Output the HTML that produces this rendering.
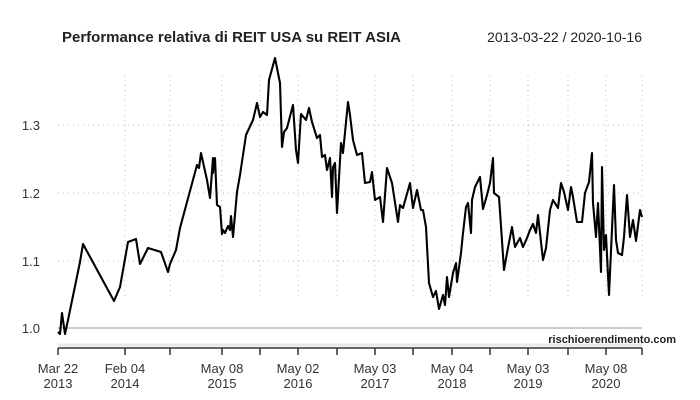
<!DOCTYPE html>
<html><head><style>body{margin:0;background:#fff}svg{display:block}</style></head><body>
<svg width="700" height="400" xmlns="http://www.w3.org/2000/svg" font-family="Liberation Sans, sans-serif">
<rect width="700" height="400" fill="#fff"/>
<text x="62" y="42" font-size="15" font-weight="bold" fill="#222">Performance relativa di REIT USA su REIT ASIA</text>
<text x="642" y="42" font-size="14" fill="#222" text-anchor="end">2013-03-22 / 2020-10-16</text>
<g stroke="#bbb" stroke-dasharray="1,4" stroke-width="1">
<line x1="58" y1="261" x2="642" y2="261"/><line x1="58" y1="193" x2="642" y2="193"/><line x1="58" y1="125" x2="642" y2="125"/>
<line x1="125" y1="75" x2="125" y2="300"/><line x1="170" y1="75" x2="170" y2="300"/><line x1="222" y1="75" x2="222" y2="300"/><line x1="260" y1="75" x2="260" y2="300"/><line x1="298" y1="75" x2="298" y2="300"/><line x1="337" y1="75" x2="337" y2="300"/><line x1="375" y1="75" x2="375" y2="300"/><line x1="413" y1="75" x2="413" y2="300"/><line x1="452" y1="75" x2="452" y2="300"/><line x1="490" y1="75" x2="490" y2="300"/><line x1="528" y1="75" x2="528" y2="300"/><line x1="568" y1="75" x2="568" y2="300"/><line x1="606" y1="75" x2="606" y2="300"/><line x1="642" y1="75" x2="642" y2="300"/>
</g>
<line x1="58" y1="328" x2="642" y2="328" stroke="#999" stroke-width="1"/>
<g font-size="13" fill="#333" text-anchor="end"><text x="40" y="333">1.0</text><text x="40" y="266">1.1</text><text x="40" y="198">1.2</text><text x="40" y="130">1.3</text></g>
<text x="676" y="343" font-size="11" font-weight="bold" fill="#222" text-anchor="end">rischioerendimento.com</text>
<line x1="58" y1="345" x2="642" y2="345" stroke="#e8e8e8" stroke-width="3"/>
<line x1="58" y1="348" x2="642" y2="348" stroke="#333" stroke-width="1.5"/>
<g stroke="#333" stroke-width="1.5"><line x1="58" y1="348" x2="58" y2="355"/><line x1="125" y1="348" x2="125" y2="355"/><line x1="170" y1="348" x2="170" y2="355"/><line x1="222" y1="348" x2="222" y2="355"/><line x1="260" y1="348" x2="260" y2="355"/><line x1="298" y1="348" x2="298" y2="355"/><line x1="337" y1="348" x2="337" y2="355"/><line x1="375" y1="348" x2="375" y2="355"/><line x1="413" y1="348" x2="413" y2="355"/><line x1="452" y1="348" x2="452" y2="355"/><line x1="490" y1="348" x2="490" y2="355"/><line x1="528" y1="348" x2="528" y2="355"/><line x1="568" y1="348" x2="568" y2="355"/><line x1="606" y1="348" x2="606" y2="355"/><line x1="642" y1="348" x2="642" y2="355"/></g>
<g font-size="13" fill="#333" text-anchor="middle">
<text x="58" y="373">Mar 22</text><text x="58" y="388">2013</text>
<text x="125" y="373">Feb 04</text><text x="125" y="388">2014</text>
<text x="222" y="373">May 08</text><text x="222" y="388">2015</text>
<text x="298" y="373">May 02</text><text x="298" y="388">2016</text>
<text x="375" y="373">May 03</text><text x="375" y="388">2017</text>
<text x="452" y="373">May 04</text><text x="452" y="388">2018</text>
<text x="528" y="373">May 03</text><text x="528" y="388">2019</text>
<text x="606" y="373">May 08</text><text x="606" y="388">2020</text>
</g>
<polyline fill="none" stroke="#000" stroke-width="2.1" stroke-linejoin="round" points="58,332 60,334 62,313 65,334 68,320 80,262 83,244 114,301 120,287 128,242 136,239 140,264 148,248 161,252 168,272 170,264 176,250 180,228 197,165 199,168 201,153 207,180 210,198 213,158 213,173 215,158 217,205 220,207 222,234 223,230 225,233 228,226 230,230 231,216 233,237 237,192 240,175 246,135 253,120 257,103 260,117 263,112 267,115 269,80 275,58 280,83 282,147 284,132 287,128 293,105 296,150 298,163 301,114 306,120 309,108 312,122 317,138 320,135 322,157 325,155 327,170 330,158 332,197 333,167 335,163 337,213 341,143 343,153 348,102 350,115 353,140 357,155 362,153 365,183 370,182 372,172 375,200 380,197 383,222 387,168 392,183 398,222 400,205 403,208 410,183 413,208 417,190 421,210 423,210 426,227 429,283 433,297 436,291 439,309 443,295 445,305 447,277 449,297 453,273 456,263 457,282 461,253 463,233 466,207 468,203 471,233 472,200 475,187 480,177 483,209 487,195 490,183 493,158 494,193 499,197 504,270 507,253 512,227 515,247 520,238 523,247 527,238 530,230 533,224 536,233 538,215 543,260 546,248 550,210 553,200 558,208 561,183 564,192 568,210 571,187 573,197 577,222 582,222 585,193 589,182 592,153 593,203 596,237 598,203 601,272 602,167 604,250 606,235 609,295 614,185 616,240 618,253 622,255 624,237 627,195 630,237 633,220 636,241 640,210 642,217"/>
</svg>
</body></html>
